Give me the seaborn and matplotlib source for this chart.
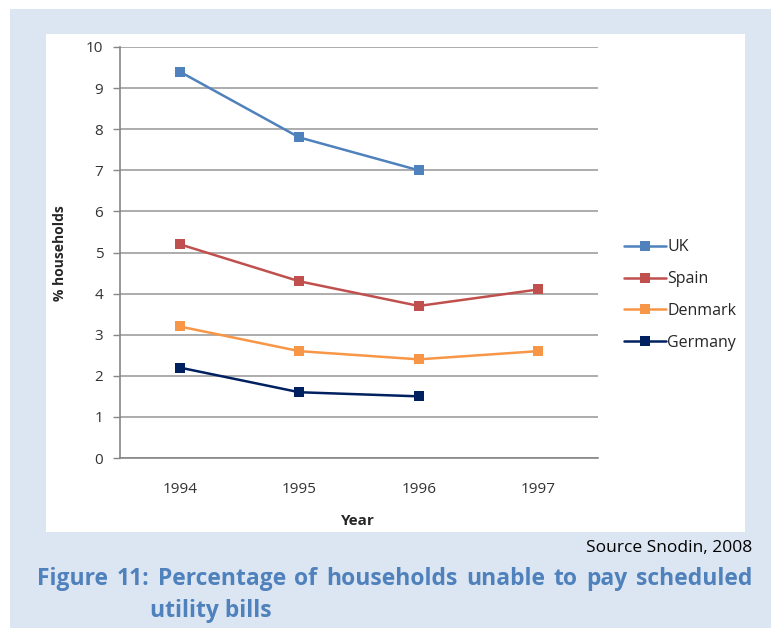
import numpy as np
import pandas as pd
import matplotlib
matplotlib.use("Agg")
import matplotlib.pyplot as plt
import seaborn as sns
from matplotlib.patches import Rectangle
from matplotlib.lines import Line2D

years = ["1994", "1995", "1996", "1997"]
uk = [9.4, 7.8, 7.0, None]
spain = [5.2, 4.3, 3.7, 4.1]
denmark = [3.2, 2.6, 2.4, 2.6]
germany = [2.2, 1.6, 1.5, None]
series_names = ["UK", "Spain", "Denmark", "Germany"]
colors = ["#4f81bd", "#c0504d", "#f79646", "#002060"]
y_ticks = [0, 1, 2, 3, 4, 5, 6, 7, 8, 9, 10]

rows = []
for name, vals in zip(series_names, [uk, spain, denmark, germany]):
    for i, (yr, v) in enumerate(zip(years, vals)):
        if v is not None:
            rows.append({"pos": i, "Year": yr, "value": v, "Country": name})
df = pd.DataFrame(rows)

sns.set_theme(style="white")
plt.rcParams["font.family"] = ["Open Sans", "DejaVu Sans"]

W, H = 771, 628
fig = plt.figure(figsize=(W / 100, H / 100), dpi=100)
fig.patch.set_facecolor("white")

def fx(px):
    return px / W

def fy(py):
    return 1 - py / H

# light blue frame background
fig.add_artist(Rectangle((fx(10), 0), fx(761), fy(9), transform=fig.transFigure,
                         facecolor="#dce6f2", edgecolor="none", zorder=0))
# white chart area
fig.add_artist(Rectangle((fx(46), fy(532)), fx(699), (532 - 34) / H, transform=fig.transFigure,
                         facecolor="white", edgecolor="none", zorder=0))

ax = fig.add_axes([fx(120), fy(458), fx(598 - 120), (458 - 47) / H])
ax.set_facecolor("none")

palette = dict(zip(series_names, colors))
sns.lineplot(data=df, x="pos", y="value", hue="Country", hue_order=series_names,
             palette=palette, marker="s", markersize=7, markeredgewidth=0,
             linewidth=1.8, ax=ax, legend=False, zorder=3)

ax.set_xlim(-0.5, 3.5)
ax.set_ylim(0, 10)
ax.set_yticks(y_ticks)
ax.set_yticklabels([str(t) for t in y_ticks], fontsize=11, color="#333333")
ax.set_xticks(range(len(years)))
ax.set_xticklabels(years, fontsize=11, color="#333333")
ax.set_xticks(np.arange(-0.5, 3.6, 1.0), minor=True)
ax.tick_params(axis="x", which="major", length=0, pad=17)
ax.tick_params(axis="x", which="minor", length=4, color="#868686", width=1)
ax.tick_params(axis="y", which="major", length=5, color="#868686", width=1, pad=7, left=True)

ax.grid(axis="y", color="#a6a6a6", linewidth=1.3, zorder=1)
ax.grid(axis="x", visible=False)
for s in ["top", "right"]:
    ax.spines[s].set_visible(False)
for s in ["left", "bottom"]:
    ax.spines[s].set_color("#868686")
    ax.spines[s].set_linewidth(1.2)

ax.set_xlabel("")
ax.set_ylabel("")
fig.text(fx(60), fy(253), "% households", rotation=90, ha="center", va="center",
         fontsize=10, fontweight="bold", color="#262626")
fig.text(fx(358), fy(521), "Year", ha="center", va="center",
         fontsize=11, fontweight="bold", color="#262626")

handles = [Line2D([0], [0], color=c, lw=1.8, marker="s", markersize=7, markeredgewidth=0)
           for c in colors]
fig.legend(handles, series_names, loc="center left", bbox_to_anchor=(fx(610), fy(295)),
           frameon=False, fontsize=11.5, handlelength=2.6, handletextpad=0.1,
           labelspacing=0.99, labelcolor="#262626")

fig.text(fx(752), fy(548), "Source Snodin, 2008", ha="right", va="center",
         fontsize=12.5, color="black")

# justified caption
cap_color = "#4f81bd"
line1 = "Figure 11: Percentage of households unable to pay scheduled".split(" ")
x0, x1 = 37, 752
renderer = fig.canvas.get_renderer()
fs = 16.5
while True:
    words = [fig.text(0, 0, w, fontsize=fs, fontweight="bold", color=cap_color) for w in line1]
    widths = [t.get_window_extent(renderer).width for t in words]
    total = sum(widths)
    gap = (x1 - x0 - total) / (len(words) - 1)
    if gap >= 6 or fs < 10:
        break
    for t in words:
        t.remove()
    fs -= 0.5
x = x0
for t, w in zip(words, widths):
    t.set_position((fx(x), fy(579)))
    t.set_va("center")
    x += w + gap
fig.text(fx(150), fy(611), "utility bills", ha="left", va="center",
         fontsize=fs, fontweight="bold", color=cap_color)

fig.savefig("out.png", dpi=100, facecolor="white")
